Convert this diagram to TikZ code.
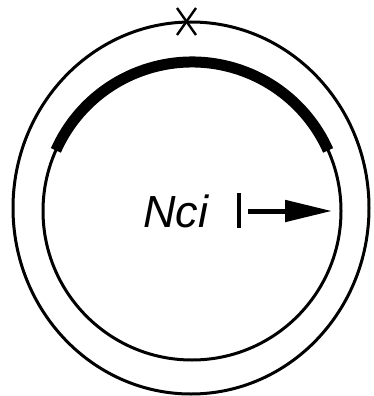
\documentclass[tikz,border=0pt]{standalone}
\usepackage{fontspec}
\setmainfont{Liberation Sans}
\usetikzlibrary{arrows.meta}
\begin{document}
\begin{tikzpicture}[x=1pt,y=-1pt,
  ring/.style={line width=3},
  gene/.style={line width=11},
  crossline/.style={line width=2.4},
  lbl/.style={font=\fontsize{45}{47}\selectfont\itshape, inner sep=0, anchor=base west}]
\useasboundingbox (0,0) rectangle (374,396);
\coordinate (oc) at (191,208);
\coordinate (ic) at (192,211);
\draw[ring] (oc) ellipse [x radius=178, y radius=186];
\draw[ring] (ic) circle [radius=149];
\draw[gene] ([shift={(-156:149)}]ic) arc [start angle=-156, end angle=-24, radius=149];
\coordinate (x1) at (177,8);
\coordinate (x2) at (196,35);
\coordinate (x3) at (196,8);
\coordinate (x4) at (177,35);
\draw[crossline] (x1) -- (x2);
\draw[crossline] (x3) -- (x4);
\node[lbl] (nci) at (143,227) {Nci};
\coordinate (bartop) at (239,193);
\coordinate (barbot) at (239,228);
\draw[line width=3.8] (bartop) -- (barbot);
\coordinate (s) at (248,211);
\coordinate (tip) at (332,211);
\draw[line width=5, -{Triangle[length=47pt,width=21pt]}] (s) -- (tip);
\end{tikzpicture}
\end{document}
